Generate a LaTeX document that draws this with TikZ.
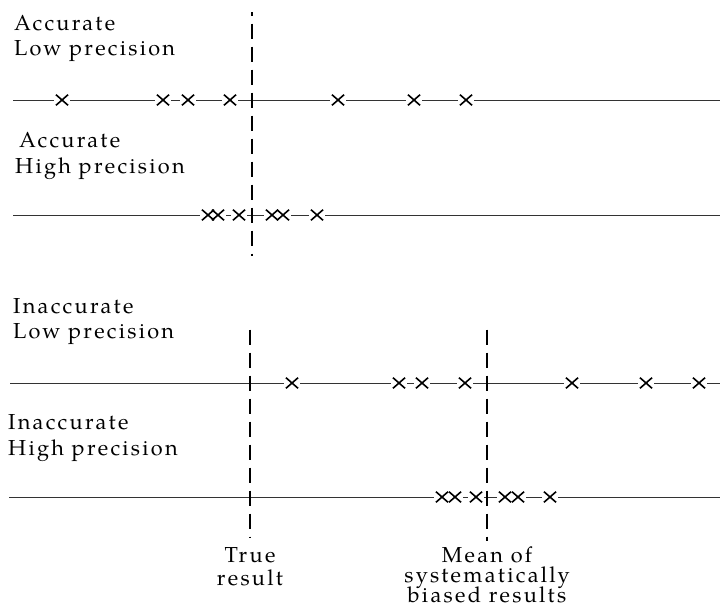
\documentclass[tikz,border=0pt]{standalone}
\usepackage{fontspec}
\setmainfont[LetterSpace=10.5]{TeX Gyre Pagella}
\usetikzlibrary{shapes.misc}
\begin{document}
\begin{tikzpicture}[x=1pt,y=-1pt,
  hline/.style={black!80, line width=0.9pt},
  vdash/.style={black, line width=1.1pt, dash pattern=on 15pt off 8pt},
  xgap/.style={fill=white, draw=none, rectangle, minimum width=16pt, minimum height=4pt, inner sep=0pt},
  xmark/.style={cross out, draw=black, line width=1.6pt, minimum width=10.5pt, minimum height=9pt, inner sep=0pt},
  lab/.style={inner sep=0pt, anchor=base west, font=\fontsize{21.7}{25}\selectfont},
  clab/.style={inner sep=0pt, anchor=base, font=\fontsize{21.7}{25}\selectfont}]
\useasboundingbox (0,0) rectangle (720,613);

% horizontal result lines
\coordinate (h1a) at (13,100);  \coordinate (h1b) at (720,100);
\coordinate (h2a) at (13,215);  \coordinate (h2b) at (720,215);
\coordinate (h3a) at (10,383);  \coordinate (h3b) at (720,383);
\coordinate (h4a) at (9,497);   \coordinate (h4b) at (720,497);
\draw[hline] (h1a) -- (h1b);
\draw[hline] (h2a) -- (h2b);
\draw[hline] (h3a) -- (h3b);
\draw[hline] (h4a) -- (h4b);

% gaps in the lines around the marks
\foreach \x in {62,163,188,230,338,414,466} \node[xgap] at (\x,100) {};
\foreach \x in {208,218,239,272,283,317} \node[xgap] at (\x,215) {};
\foreach \x in {292,399,422,465,572,646,699} \node[xgap] at (\x,383) {};
\foreach \x in {442,455,476,505,518,550} \node[xgap] at (\x,497) {};

% vertical dashed lines
\coordinate (v1a) at (252,12);  \coordinate (v1b) at (252,256);
\coordinate (v2a) at (250,325); \coordinate (v2b) at (250,538);
\coordinate (v3a) at (487,325); \coordinate (v3b) at (487,541);
\draw[vdash, dash phase=11.5pt] (v1a) -- (v1b);
\draw[vdash, dash phase=18.5pt] (v2a) -- (v2b);
\draw[vdash, dash phase=18.5pt] (v3a) -- (v3b);

% marks
\foreach \x [count=\i] in {62,163,188,230,338,414,466} \node[xmark] (a\i) at (\x,100) {};
\foreach \x [count=\i] in {208,218,239,272,283,317} \node[xmark] (b\i) at (\x,215) {};
\foreach \x [count=\i] in {292,399,422,465,572,646,699} \node[xmark] (c\i) at (\x,383) {};
\foreach \x [count=\i] in {442,455,476,505,518,550} \node[xmark] (d\i) at (\x,497) {};

% labels
\node[lab] (t1a) at (14,30) {Accurate};
\node[lab] (t1b) at (14,55) {Low precision};
\node[lab] (t2a) at (19,147) {Accurate};
\node[lab] (t2b) at (15,173) {High precision};
\node[lab] (t3a) at (13,313) {Inaccurate};
\node[lab] (t3b) at (13,338) {Low precision};
\node[lab] (t4a) at (8,429) {Inaccurate};
\node[lab] (t4b) at (8,455) {High precision};

\node[clab] (tr1) at (250,562) {True};
\node[clab] (tr2) at (250,585) {result};
\node[clab] (m1) at (487,562) {Mean of};
\node[clab] (m2) at (487,582) {systematically};
\node[clab] (m3) at (487,602) {biased results};
\end{tikzpicture}
\end{document}
